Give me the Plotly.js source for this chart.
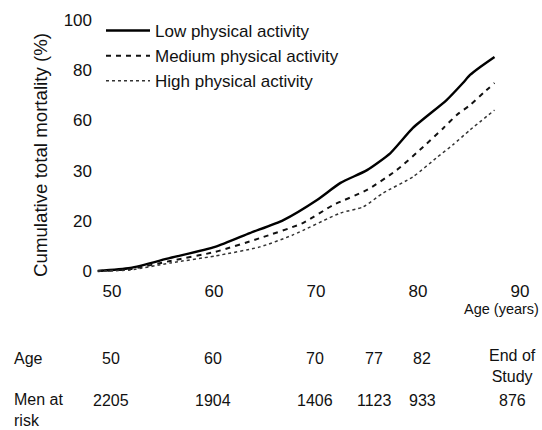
<!DOCTYPE html>
<html>
<head>
<meta charset="utf-8">
<script src="https://cdn.plot.ly/plotly-3.0.1.min.js"></script>
<style>html,body{margin:0;padding:0;background:#fff;}#chart{width:542px;height:430px;}</style>
</head>
<body>
<div id="chart"></div>
<script>
// ---- Data ----
const seriesNames = ["Low physical activity", "Medium physical activity", "High physical activity"];

const lowAge = [48.6, 51.8, 55.7, 60.1, 63.5, 66.8, 70.1, 72.4, 75.0, 77.3, 79.5, 82.8, 84.4, 85.1, 86.1, 87.5];
const lowMort = [0, 1.2, 5.2, 9.6, 15.1, 20.3, 28.3, 35.1, 40.2, 47.0, 57.0, 68.1, 74.9, 78.1, 81.3, 85.3];

const medAge = [48.6, 51.8, 55.7, 60.1, 64.5, 68.7, 71.7, 75.0, 77.9, 80.5, 82.5, 83.8, 85.1, 86.4, 87.5];
const medMort = [0, 0.8, 4.0, 7.6, 13.1, 19.1, 26.3, 32.3, 40.2, 49.4, 57.0, 62.2, 66.1, 70.9, 74.9];

const highAge = [48.6, 51.8, 55.7, 60.1, 64.5, 67.7, 72.4, 74.6, 76.6, 79.5, 81.9, 83.4, 85.1, 87.5];
const highMort = [0, 0.4, 3.2, 6.0, 9.6, 14.3, 23.1, 25.5, 31.1, 37.5, 45.4, 50.2, 56.2, 64.1];

const xTickVals = [50, 60, 70, 80, 90];
const yTickVals = [0, 20, 40, 60, 80, 100];
const yTickText = ["0", "20", "30", "60", "80", "100"];

const xTitle = "Age (years)";
const yTitle = "Cumulative total mortality (%)";
const tableRowLabels = ["Age", "Men at<br>risk"];
const tableAges = ["50", "60", "70", "77", "82", "End of<br>Study"];
const tableAtRisk = ["2205", "1904", "1406", "1123", "933", "876"];

// ---- Layout geometry (styles) ----
const W = 542, H = 430;
const M = {l: 95, r: 12, t: 15, b: 152};
const plotW = W - M.l - M.r, plotH = H - M.t - M.b;
const px2x = px => (px - M.l) / plotW;
const py2y = py => (H - M.b - py) / plotH;
const colPx = [111, 213, 315, 374, 422, 512];
const FONT = "Liberation Sans, Arial, sans-serif";
const TXT = "#111";

const traces = [
  {x: lowAge, y: lowMort, name: seriesNames[0], legendgroup: "a",
   line: {color: "#000", width: 2.4, shape: "spline", smoothing: 0.6}},
  {x: medAge, y: medMort, name: seriesNames[1], legendgroup: "b",
   line: {color: "#111", width: 2, dash: "5px,5px", shape: "spline", smoothing: 0.6}},
  {x: highAge, y: highMort, name: seriesNames[2], legendgroup: "c",
   line: {color: "#333", width: 1.5, dash: "dot", shape: "spline", smoothing: 0.6}}
].map(t => Object.assign({type: "scatter", mode: "lines", hoverinfo: "skip"}, t));

const tfont = {family: FONT, size: 16, color: TXT};
const annotations = [];
annotations.push({xref: "paper", yref: "paper", x: px2x(40), y: py2y(155), xanchor: "center", yanchor: "middle",
  textangle: -90, text: yTitle, showarrow: false, font: {family: FONT, size: 18.7, color: TXT}});
annotations.push({xref: "paper", yref: "paper", x: px2x(541), y: py2y(309), xanchor: "right", yanchor: "middle",
  text: xTitle, showarrow: false, font: {family: FONT, size: 14.5, color: TXT}});
annotations.push({xref: "paper", yref: "paper", x: px2x(12), y: py2y(358), xanchor: "left", yanchor: "middle",
  text: tableRowLabels[0], showarrow: false, font: tfont});
annotations.push({xref: "paper", yref: "paper", x: px2x(12), y: py2y(410), xanchor: "left", yanchor: "middle",
  text: tableRowLabels[1], align: "left", showarrow: false, font: tfont});
tableAges.forEach((t, i) => {
  const two = t.indexOf("<br>") >= 0;
  annotations.push({xref: "paper", yref: "paper", x: px2x(colPx[i]), y: py2y(two ? 366 : 358),
    xanchor: "center", yanchor: "middle", text: t, align: "center", showarrow: false, font: tfont});
});
tableAtRisk.forEach((t, i) => {
  annotations.push({xref: "paper", yref: "paper", x: px2x(colPx[i]), y: py2y(401),
    xanchor: "center", yanchor: "middle", text: t, showarrow: false, font: tfont});
});

const layout = {
  width: W, height: H,
  margin: M,
  paper_bgcolor: "#fff", plot_bgcolor: "#fff",
  font: {family: FONT, size: 16, color: TXT},
  showlegend: true,
  legend: {x: px2x(101), y: py2y(13), xanchor: "left", yanchor: "top",
    bgcolor: "rgba(0,0,0,0)", font: {family: FONT, size: 17, color: TXT},
    traceorder: "grouped", tracegroupgap: 0, itemwidth: 44},
  xaxis: {range: [48.33, 90.98], tickvals: xTickVals, showgrid: false, zeroline: false,
    showline: false, ticks: "", ticklabelstandoff: 1, tickfont: {family: FONT, size: 17, color: TXT}},
  yaxis: {range: [-2.79, 102], tickvals: yTickVals, ticktext: yTickText, showgrid: false,
    zeroline: false, showline: false, ticks: "", ticklabelstandoff: 2,
    tickfont: {family: FONT, size: 17, color: TXT}},
  annotations: annotations
};

Plotly.newPlot("chart", traces, layout, {displayModeBar: false, staticPlot: true});
</script>
</body>
</html>
